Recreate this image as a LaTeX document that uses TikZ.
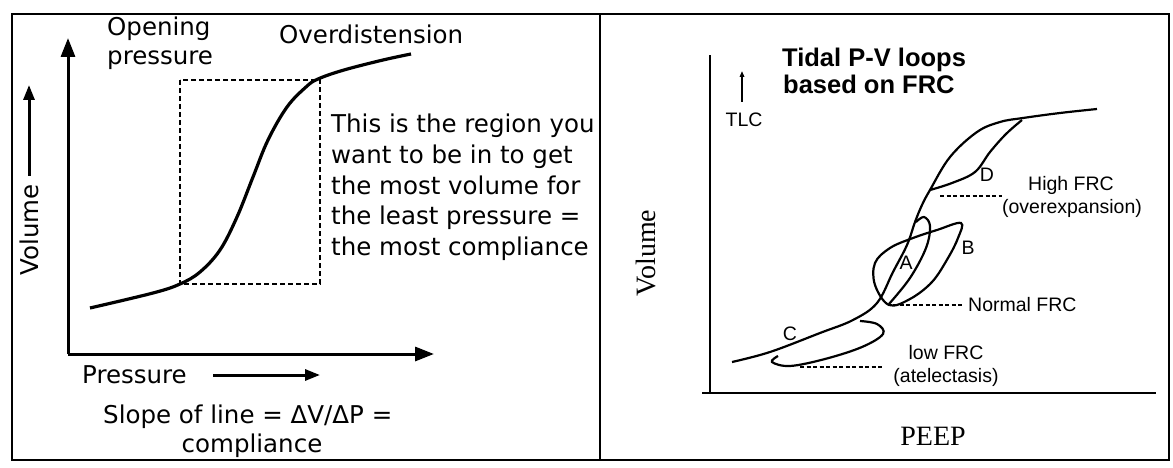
\documentclass[tikz,border=0pt]{standalone}
\usepackage{fontspec}
\setmainfont{Liberation Serif}
\newfontfamily\lgfont{DejaVu Sans}
\newfontfamily\arfont{Liberation Sans}
\usetikzlibrary{arrows.meta}

\begin{document}
\begin{tikzpicture}[x=1pt, y=-1pt,
    lbl/.style={inner sep=0pt, font=\lgfont\fontsize{24.5}{30.5}\selectfont},
    rlbl/.style={inner sep=0pt, font=\arfont\fontsize{19.5}{22}\selectfont},
    serif/.style={inner sep=0pt, font=\fontsize{28}{30}\selectfont},
    axis/.style={line width=3pt, -{Triangle[length=19pt,width=14pt]}},
    smallarr/.style={line width=3pt, -{Triangle[length=15pt,width=11pt]}},
    dashbox/.style={line width=2.4pt, dash pattern=on 5pt off 3pt},
    finedash/.style={line width=1.6pt, dash pattern=on 4pt off 2.5pt},
    curve/.style={line width=3.2pt},
    loopline/.style={line width=2.2pt}]
    \useasboundingbox (0,0) rectangle (1173,468);

    % frame
    \draw[line width=2.2pt] (12,14) rectangle (1169,460);
    \draw[line width=2.2pt] (600,14) -- (600,460);

    % left: compliance curve
    \coordinate (orig) at (68,354);
    \coordinate (ytop) at (68,38);
    \coordinate (xend) at (434,354);
    \draw[axis] (orig) -- (ytop);
    \draw[axis] (orig) -- (xend);

    \draw[curve] plot[smooth, tension=0.6] coordinates {(90,308) (153,293) (180,284) (200,272) (220,250) (237,217) (253,177) (268,140) (287,107) (306,87) (318,79) (344,70) (383,60) (411,54)};
    \draw[dashbox] (180,80) rectangle (320,284);

    \node[lbl, anchor=base west] (opening) at (107,36) {Opening};
    \node[lbl, anchor=base west] (openpres) at (107,65) {pressure};
    \node[lbl, anchor=base west] (overdist) at (279,44) {Overdistension};
    \foreach \txt [count=\i] in {This is the region you, want to be in to get, the most volume for, the least pressure =, the most compliance}
        \node[lbl, anchor=base west] (region\i) at (331, 102.5+30.5*\i) {\txt};

    \node[lbl, rotate=90, anchor=base] (vol) at (38,230) {Volume};
    \coordinate (volA) at (29,176);
    \coordinate (volB) at (29,85);
    \draw[smallarr] (volA) -- (volB);

    \node[lbl, anchor=base west] (pres) at (82,383) {Pressure};
    \coordinate (presA) at (213,375);
    \coordinate (presB) at (320,375);
    \draw[smallarr] (presA) -- (presB);
    \node[lbl, anchor=base west] (slope) at (103,423) {Slope of line = ΔV/ΔP =};
    \node[lbl, anchor=base] (compl) at (252,452) {compliance};

    % right: tidal loops
    \coordinate (origR) at (710,393);
    \coordinate (ytopR) at (710,55);
    \coordinate (xstartR) at (702,393);
    \coordinate (xendR) at (1156,393);
    \draw[line width=2.2pt] (origR) -- (ytopR);
    \draw[line width=2.6pt] (xstartR) -- (xendR);

    \node[serif, rotate=90] (volR) at (646,253) {Volume};
    \node[serif] (peep) at (933,436) {PEEP};
    \node[anchor=base west, inner sep=0pt, font=\arfont\bfseries\fontsize{25.5}{27}\selectfont] (title1) at (782,67) {Tidal P-V loops};
    \node[anchor=base west, inner sep=0pt, font=\arfont\bfseries\fontsize{25.5}{27}\selectfont] (title2) at (783,94) {based on FRC};

    \node[rlbl] (tlc) at (744,120) {TLC};
    \coordinate (tlcA) at (742,102);
    \coordinate (tlcB) at (742,71);
    \draw[line width=2pt, -{Triangle[length=6pt,width=4.5pt]}] (tlcA) -- (tlcB);

    \draw[loopline] plot[smooth, tension=0.6] coordinates {(732,362) (770,352) (820,333) (853,320) (877,303) (893,272) (907,245) (915,222) (922,205) (930,190) (950,157) (977,132) (1000,122) (1023,118) (1060,113) (1097,109)};
    % loop C
    \draw[loopline] plot[smooth, tension=0.6] coordinates {(778,356) (772,362) (790,366) (825,359) (862,347) (883,334) (877,324) (860,321)};
    % loops A and B
    \draw[loopline] plot[smooth cycle, tension=0.6] coordinates {(889,305) (875,285) (875,263) (890,248) (913,238) (937,230) (961,223) (958,238) (948,258) (932,282) (910,299)};
    \draw[loopline] plot[smooth, tension=0.6] coordinates {(889,304) (910,278) (926,248) (930,226) (924,217) (916,222)};
    % loop D
    \draw[loopline] plot[smooth, tension=0.6] coordinates {(930,190) (952,183) (975,172) (990,152) (1006,134) (1022,120)};

    \node[rlbl] (labA) at (906,263) {A};
    \node[rlbl] (labB) at (968,248) {B};
    \node[rlbl] (labC) at (790,334) {C};
    \node[rlbl] (labD) at (987,175) {D};

    \node[rlbl] (hifrc) at (1071,185) {High FRC};
    \node[rlbl] (overexp) at (1072,208) {(overexpansion)};
    \node[rlbl, anchor=west] (normfrc) at (968,305) {Normal FRC};
    \node[rlbl] (lowfrc) at (946,353) {low FRC};
    \node[rlbl] (atel) at (946,377) {(atelectasis)};

    \coordinate (dashD) at (940,196);
    \coordinate (dashN) at (893,305);
    \coordinate (dashL) at (800,367);
    \draw[finedash] (dashD) -- (dashD -| overexp.west);
    \draw[finedash, shorten >=6pt] (dashN) -- (normfrc.west);
    \draw[finedash, shorten >=10pt] (dashL) -- (dashL -| atel.west);
\end{tikzpicture}
\end{document}
